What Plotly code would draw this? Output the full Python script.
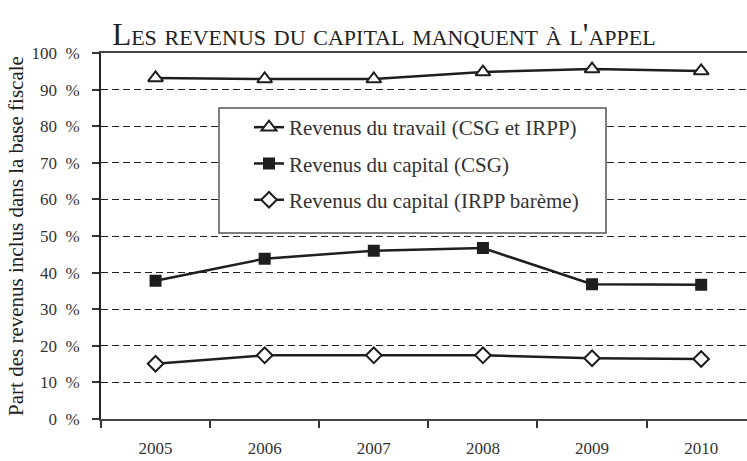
import plotly.graph_objects as go

years = ["2005", "2006", "2007", "2008", "2009", "2010"]
travail = [93.2, 92.9, 92.9, 94.8, 95.6, 95.1]
capital_csg = [37.8, 43.8, 46.0, 46.7, 36.8, 36.7]
capital_irpp = [15.1, 17.4, 17.4, 17.4, 16.6, 16.4]
names = ["Revenus du travail (CSG et IRPP)", "Revenus du capital (CSG)", "Revenus du capital (IRPP barème)"]
y_ticks = [0, 10, 20, 30, 40, 50, 60, 70, 80, 90, 100]
y_labels = [f"{v}\u2002%" for v in y_ticks]

FONT = "Liberation Serif"
LINE = "#1e1e1e"

fig = go.Figure()
specs = [
    (travail, "triangle-up", 13, "white", names[0]),
    (capital_csg, "square", 10, LINE, names[1]),
    (capital_irpp, "diamond", 12, "white", names[2]),
]
for i, (vals, sym, sz, fill, nm) in enumerate(specs):
    fig.add_trace(go.Scatter(
        x=years, y=vals, name=nm, mode="lines+markers",
        legendgroup=str(i),
        line=dict(color=LINE, width=2.5),
        marker=dict(symbol=sym, size=sz, color=fill,
                    line=dict(color=LINE, width=2)),
    ))

# legend frame (decoration; no data falls inside it)
fig.add_shape(type="rect", xref="paper", yref="paper",
              x0=(219 - 101) / 646, x1=(606 - 101) / 646,
              y0=(419 - 233) / 366, y1=(419 - 108) / 366,
              line=dict(color="#555", width=1.5), fillcolor="white", layer="above")

fig.update_layout(
    width=747, height=461,
    margin=dict(l=101, r=0, t=53, b=42, autoexpand=False),
    paper_bgcolor="white", plot_bgcolor="rgba(0,0,0,0)",
    font=dict(family=FONT, size=17, color="#333"),
    title=dict(text="Les revenus du capital manquent à l'appel",
               x=0.514, xanchor="center", y=0.927, yanchor="middle",
               font=dict(family=FONT, size=31, color="#222", variant="small-caps")),
    showlegend=True,
    legend=dict(x=(249 - 101) / 646, y=(419 - 107) / 366, xanchor="left", yanchor="top",
                bgcolor="rgba(0,0,0,0)", borderwidth=0,
                font=dict(family=FONT, size=21, color="#333"),
                tracegroupgap=6, itemwidth=30),
    xaxis=dict(type="category", range=[-0.5, 5.42], tickson="boundaries",
               ticks="outside", ticklen=7, tickcolor="#333", tickwidth=1.5,
               showline=True, linecolor="#444", linewidth=1.5, mirror=True,
               showgrid=False, ticklabelstandoff=13, automargin=False,
               tickfont=dict(family=FONT, size=17, color="#333")),
    yaxis=dict(range=[0, 100], tickvals=y_ticks, ticktext=y_labels,
               ticks="outside", ticklen=7, tickcolor="#333", tickwidth=1.5,
               showline=True, linecolor="#222", linewidth=2,
               showgrid=True, gridcolor="#222", gridwidth=1, griddash="7px,4px",
               zeroline=False, automargin=False, ticklabelstandoff=9,
               tickfont=dict(family=FONT, size=17, color="#333")),
)
fig.update_yaxes(title=dict(text="Part des revenus inclus dans la base fiscale",
                            font=dict(family=FONT, size=21, color="#222"), standoff=2))

fig.write_html("out.html", config={"displayModeBar": False},
               post_script="document.body.style.margin='0';document.body.style.padding='0';")
